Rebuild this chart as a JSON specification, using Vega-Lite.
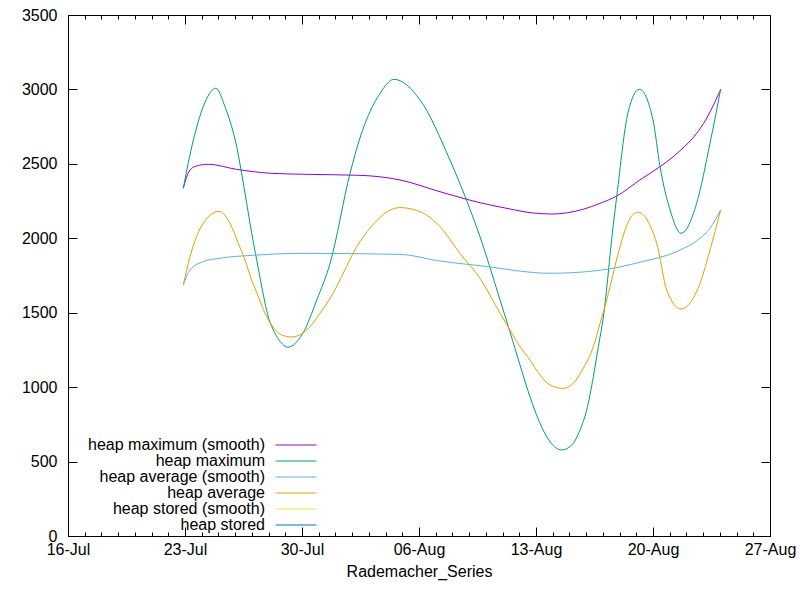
{
  "$schema": "https://vega.github.io/schema/vega-lite/v6.json",
  "width": 702,
  "height": 521,
  "autosize": "none",
  "padding": {"left": 68, "top": 15, "right": 30, "bottom": 64},
  "background": "white",
  "config": {
    "view": {"stroke": "black", "strokeWidth": 1},
    "font": "Liberation Sans",
    "axis": {
      "labelFont": "Liberation Sans",
      "labelFontSize": 16,
      "labelColor": "black",
      "titleFont": "Liberation Sans",
      "titleFontSize": 16,
      "titleFontWeight": "normal",
      "titleColor": "black",
      "tickColor": "black",
      "domainColor": "black",
      "grid": false
    },
    "legend": {
      "labelFont": "Liberation Sans",
      "labelFontSize": 16,
      "labelColor": "black",
      "labelLimit": 400
    }
  },
  "data": {
    "values": [
      {"series": "heap maximum (smooth)", "t": "2019-07-22T21:30", "v": 2336},
      {"series": "heap maximum (smooth)", "t": "2019-07-23T07:10", "v": 2459},
      {"series": "heap maximum (smooth)", "t": "2019-07-23T16:50", "v": 2486},
      {"series": "heap maximum (smooth)", "t": "2019-07-24T09:25", "v": 2497},
      {"series": "heap maximum (smooth)", "t": "2019-07-26T02:15", "v": 2463},
      {"series": "heap maximum (smooth)", "t": "2019-07-28T02:10", "v": 2437},
      {"series": "heap maximum (smooth)", "t": "2019-07-30T01:55", "v": 2430},
      {"series": "heap maximum (smooth)", "t": "2019-08-02T11:15", "v": 2423},
      {"series": "heap maximum (smooth)", "t": "2019-08-04T20:40", "v": 2392},
      {"series": "heap maximum (smooth)", "t": "2019-08-07T06:10", "v": 2313},
      {"series": "heap maximum (smooth)", "t": "2019-08-09T15:35", "v": 2239},
      {"series": "heap maximum (smooth)", "t": "2019-08-11T10:35", "v": 2197},
      {"series": "heap maximum (smooth)", "t": "2019-08-12T15:20", "v": 2172},
      {"series": "heap maximum (smooth)", "t": "2019-08-13T22:35", "v": 2163},
      {"series": "heap maximum (smooth)", "t": "2019-08-15T19:55", "v": 2195},
      {"series": "heap maximum (smooth)", "t": "2019-08-16T20:00", "v": 2235},
      {"series": "heap maximum (smooth)", "t": "2019-08-17T20:00", "v": 2284},
      {"series": "heap maximum (smooth)", "t": "2019-08-19T05:15", "v": 2392},
      {"series": "heap maximum (smooth)", "t": "2019-08-20T10:05", "v": 2481},
      {"series": "heap maximum (smooth)", "t": "2019-08-21T14:50", "v": 2588},
      {"series": "heap maximum (smooth)", "t": "2019-08-22T14:40", "v": 2705},
      {"series": "heap maximum (smooth)", "t": "2019-08-23T03:40", "v": 2795},
      {"series": "heap maximum (smooth)", "t": "2019-08-24T01:10", "v": 3000},

      {"series": "heap maximum", "t": "2019-07-22T21:30", "v": 2336},
      {"series": "heap maximum", "t": "2019-07-23T12:00", "v": 2660},
      {"series": "heap maximum", "t": "2019-07-24T02:10", "v": 2884},
      {"series": "heap maximum", "t": "2019-07-24T20:10", "v": 3008},
      {"series": "heap maximum", "t": "2019-07-25T09:25", "v": 2884},
      {"series": "heap maximum", "t": "2019-07-25T19:00", "v": 2750},
      {"series": "heap maximum", "t": "2019-07-26T02:15", "v": 2615},
      {"series": "heap maximum", "t": "2019-07-26T08:25", "v": 2459},
      {"series": "heap maximum", "t": "2019-07-26T16:35", "v": 2235},
      {"series": "heap maximum", "t": "2019-07-26T23:45", "v": 2034},
      {"series": "heap maximum", "t": "2019-07-27T07:00", "v": 1854},
      {"series": "heap maximum", "t": "2019-07-27T14:10", "v": 1675},
      {"series": "heap maximum", "t": "2019-07-27T23:35", "v": 1473},
      {"series": "heap maximum", "t": "2019-07-28T09:10", "v": 1362},
      {"series": "heap maximum", "t": "2019-07-28T23:35", "v": 1276},
      {"series": "heap maximum", "t": "2019-07-29T03:00", "v": 1268},
      {"series": "heap maximum", "t": "2019-07-30T01:30", "v": 1364},
      {"series": "heap maximum", "t": "2019-07-30T21:10", "v": 1585},
      {"series": "heap maximum", "t": "2019-07-31T16:20", "v": 1832},
      {"series": "heap maximum", "t": "2019-08-01T21:00", "v": 2437},
      {"series": "heap maximum", "t": "2019-08-02T11:15", "v": 2674},
      {"series": "heap maximum", "t": "2019-08-03T16:05", "v": 2974},
      {"series": "heap maximum", "t": "2019-08-04T12:00", "v": 3068},
      {"series": "heap maximum", "t": "2019-08-06T01:30", "v": 2929},
      {"series": "heap maximum", "t": "2019-08-07T20:25", "v": 2526},
      {"series": "heap maximum", "t": "2019-08-09T01:15", "v": 2195},
      {"series": "heap maximum", "t": "2019-08-09T15:35", "v": 2011},
      {"series": "heap maximum", "t": "2019-08-10T20:25", "v": 1585},
      {"series": "heap maximum", "t": "2019-08-11T10:35", "v": 1372},
      {"series": "heap maximum", "t": "2019-08-12T01:00", "v": 1149},
      {"series": "heap maximum", "t": "2019-08-12T15:20", "v": 936},
      {"series": "heap maximum", "t": "2019-08-13T05:45", "v": 757},
      {"series": "heap maximum", "t": "2019-08-13T20:10", "v": 633},
      {"series": "heap maximum", "t": "2019-08-14T12:55", "v": 578},
      {"series": "heap maximum", "t": "2019-08-15T03:20", "v": 611},
      {"series": "heap maximum", "t": "2019-08-15T15:10", "v": 712},
      {"series": "heap maximum", "t": "2019-08-16T00:45", "v": 846},
      {"series": "heap maximum", "t": "2019-08-16T10:20", "v": 1070},
      {"series": "heap maximum", "t": "2019-08-16T17:30", "v": 1272},
      {"series": "heap maximum", "t": "2019-08-17T00:45", "v": 1473},
      {"series": "heap maximum", "t": "2019-08-17T14:40", "v": 2078},
      {"series": "heap maximum", "t": "2019-08-17T20:00", "v": 2284},
      {"series": "heap maximum", "t": "2019-08-18T12:00", "v": 2842},
      {"series": "heap maximum", "t": "2019-08-19T04:20", "v": 3001},
      {"series": "heap maximum", "t": "2019-08-20T00:00", "v": 2795},
      {"series": "heap maximum", "t": "2019-08-20T10:05", "v": 2481},
      {"series": "heap maximum", "t": "2019-08-21T00:30", "v": 2190},
      {"series": "heap maximum", "t": "2019-08-21T16:20", "v": 2034},
      {"series": "heap maximum", "t": "2019-08-22T14:40", "v": 2235},
      {"series": "heap maximum", "t": "2019-08-23T09:50", "v": 2638},
      {"series": "heap maximum", "t": "2019-08-24T01:10", "v": 3001},

      {"series": "heap average (smooth)", "t": "2019-07-22T21:30", "v": 1686},
      {"series": "heap average (smooth)", "t": "2019-07-23T07:10", "v": 1787},
      {"series": "heap average (smooth)", "t": "2019-07-24T02:10", "v": 1843},
      {"series": "heap average (smooth)", "t": "2019-07-25T02:10", "v": 1866},
      {"series": "heap average (smooth)", "t": "2019-07-27T02:10", "v": 1886},
      {"series": "heap average (smooth)", "t": "2019-07-30T01:55", "v": 1899},
      {"series": "heap average (smooth)", "t": "2019-08-04T20:40", "v": 1892},
      {"series": "heap average (smooth)", "t": "2019-08-07T06:10", "v": 1847},
      {"series": "heap average (smooth)", "t": "2019-08-09T15:35", "v": 1816},
      {"series": "heap average (smooth)", "t": "2019-08-13T20:10", "v": 1765},
      {"series": "heap average (smooth)", "t": "2019-08-16T20:00", "v": 1785},
      {"series": "heap average (smooth)", "t": "2019-08-19T05:15", "v": 1839},
      {"series": "heap average (smooth)", "t": "2019-08-21T14:50", "v": 1921},
      {"series": "heap average (smooth)", "t": "2019-08-22T19:30", "v": 2000},
      {"series": "heap average (smooth)", "t": "2019-08-23T09:50", "v": 2067},
      {"series": "heap average (smooth)", "t": "2019-08-24T01:10", "v": 2190},

      {"series": "heap average", "t": "2019-07-22T21:30", "v": 1686},
      {"series": "heap average", "t": "2019-07-23T07:10", "v": 1876},
      {"series": "heap average", "t": "2019-07-24T02:10", "v": 2101},
      {"series": "heap average", "t": "2019-07-25T00:45", "v": 2181},
      {"series": "heap average", "t": "2019-07-25T16:35", "v": 2101},
      {"series": "heap average", "t": "2019-07-26T04:35", "v": 1966},
      {"series": "heap average", "t": "2019-07-26T14:10", "v": 1854},
      {"series": "heap average", "t": "2019-07-26T23:45", "v": 1720},
      {"series": "heap average", "t": "2019-07-27T09:20", "v": 1608},
      {"series": "heap average", "t": "2019-07-27T18:55", "v": 1496},
      {"series": "heap average", "t": "2019-07-28T04:30", "v": 1417},
      {"series": "heap average", "t": "2019-07-28T18:55", "v": 1350},
      {"series": "heap average", "t": "2019-07-29T09:10", "v": 1337},
      {"series": "heap average", "t": "2019-07-30T11:30", "v": 1406},
      {"series": "heap average", "t": "2019-07-31T01:50", "v": 1496},
      {"series": "heap average", "t": "2019-07-31T16:20", "v": 1597},
      {"series": "heap average", "t": "2019-08-02T11:15", "v": 1977},
      {"series": "heap average", "t": "2019-08-04T20:40", "v": 2206},
      {"series": "heap average", "t": "2019-08-06T01:30", "v": 2179},
      {"series": "heap average", "t": "2019-08-07T06:10", "v": 2078},
      {"series": "heap average", "t": "2019-08-08T10:50", "v": 1899},
      {"series": "heap average", "t": "2019-08-09T15:35", "v": 1731},
      {"series": "heap average", "t": "2019-08-10T20:25", "v": 1496},
      {"series": "heap average", "t": "2019-08-11T10:35", "v": 1384},
      {"series": "heap average", "t": "2019-08-12T01:00", "v": 1272},
      {"series": "heap average", "t": "2019-08-12T15:20", "v": 1182},
      {"series": "heap average", "t": "2019-08-13T05:45", "v": 1082},
      {"series": "heap average", "t": "2019-08-13T20:10", "v": 1014},
      {"series": "heap average", "t": "2019-08-14T14:25", "v": 992},
      {"series": "heap average", "t": "2019-08-15T05:30", "v": 1026},
      {"series": "heap average", "t": "2019-08-15T19:55", "v": 1127},
      {"series": "heap average", "t": "2019-08-16T10:20", "v": 1272},
      {"series": "heap average", "t": "2019-08-16T20:00", "v": 1429},
      {"series": "heap average", "t": "2019-08-17T05:30", "v": 1585},
      {"series": "heap average", "t": "2019-08-17T10:20", "v": 1675},
      {"series": "heap average", "t": "2019-08-18T00:40", "v": 1944},
      {"series": "heap average", "t": "2019-08-18T15:00", "v": 2134},
      {"series": "heap average", "t": "2019-08-19T02:05", "v": 2175},
      {"series": "heap average", "t": "2019-08-20T05:20", "v": 1966},
      {"series": "heap average", "t": "2019-08-20T19:40", "v": 1653},
      {"series": "heap average", "t": "2019-08-21T16:20", "v": 1525},
      {"series": "heap average", "t": "2019-08-22T19:30", "v": 1698},
      {"series": "heap average", "t": "2019-08-23T09:50", "v": 1921},
      {"series": "heap average", "t": "2019-08-24T01:10", "v": 2190}
    ]
  },
  "encoding": {
    "x": {"field": "t", "type": "temporal"},
    "y": {"field": "v", "type": "quantitative"}
  },
  "layer": [
    {
      "mark": {"type": "line", "strokeWidth": 1, "interpolate": "monotone"},
      "encoding": {
        "x": {
          "field": "t",
          "type": "temporal",
          "title": "Rademacher_Series",
          "scale": {"domain": [{"year": 2019, "month": "Jul", "date": 16}, {"year": 2019, "month": "Aug", "date": 27}]},
          "axis": {
            "orient": "bottom",
            "format": "%d-%b",
            "values": [
              {"year": 2019, "month": "Jul", "date": 16},
              {"year": 2019, "month": "Jul", "date": 23},
              {"year": 2019, "month": "Jul", "date": 30},
              {"year": 2019, "month": "Aug", "date": 6},
              {"year": 2019, "month": "Aug", "date": 13},
              {"year": 2019, "month": "Aug", "date": 20},
              {"year": 2019, "month": "Aug", "date": 27}
            ],
            "tickSize": -9,
            "labelPadding": 14,
            "titlePadding": 6,
            "labelFlush": false,
            "labelOverlap": false
          }
        },
        "y": {
          "field": "v",
          "type": "quantitative",
          "scale": {"domain": [0, 3500], "nice": false},
          "axis": {
            "orient": "left",
            "title": null,
            "values": [0, 500, 1000, 1500, 2000, 2500, 3000, 3500],
            "format": "d",
            "tickSize": -9,
            "labelPadding": 20,
            "labelFlush": false,
            "labelOverlap": false
          }
        },
        "color": {
          "field": "series",
          "type": "nominal",
          "scale": {
            "domain": ["heap maximum (smooth)", "heap maximum", "heap average (smooth)", "heap average", "heap stored (smooth)", "heap stored"],
            "range": ["#9400d3", "#009e73", "#56b4e9", "#e69f00", "#f0e442", "#0072b2"]
          },
          "legend": {
            "title": null,
            "orient": "none",
            "legendX": 220,
            "legendY": 422,
            "symbolType": "M-5,0H5",
            "symbolSize": 67,
            "symbolStrokeWidth": 1,
            "labelAlign": "right",
            "labelOffset": -39,
            "rowPadding": 0
          }
        }
      }
    },
    {
      "mark": {"type": "line", "strokeOpacity": 0},
      "encoding": {
        "detail": {"field": "series"},
        "x": {
          "field": "t",
          "type": "temporal",
          "axis": {"orient": "bottom", "title": null, "labels": false, "domain": false, "tickSize": -4, "tickCount": {"interval": "day", "step": 1}}
        },
        "y": {
          "field": "v",
          "type": "quantitative",
          "axis": {"orient": "right", "title": null, "labels": false, "domain": false, "tickSize": -9, "values": [0, 500, 1000, 1500, 2000, 2500, 3000, 3500]}
        }
      }
    },
    {
      "mark": {"type": "line", "strokeOpacity": 0},
      "encoding": {
        "detail": {"field": "series"},
        "x": {
          "field": "t",
          "type": "temporal",
          "axis": {
            "orient": "top", "title": null, "labels": false, "domain": false, "tickSize": -9,
            "values": [
              {"year": 2019, "month": "Jul", "date": 16},
              {"year": 2019, "month": "Jul", "date": 23},
              {"year": 2019, "month": "Jul", "date": 30},
              {"year": 2019, "month": "Aug", "date": 6},
              {"year": 2019, "month": "Aug", "date": 13},
              {"year": 2019, "month": "Aug", "date": 20},
              {"year": 2019, "month": "Aug", "date": 27}
            ]
          }
        },
        "y": {"field": "v", "type": "quantitative", "axis": null}
      }
    },
    {
      "mark": {"type": "line", "strokeOpacity": 0},
      "encoding": {
        "detail": {"field": "series"},
        "x": {
          "field": "t",
          "type": "temporal",
          "axis": {"orient": "top", "title": null, "labels": false, "domain": false, "tickSize": -4, "tickCount": {"interval": "day", "step": 1}}
        },
        "y": {"field": "v", "type": "quantitative", "axis": null}
      }
    }
  ],
  "resolve": {"axis": {"x": "independent", "y": "independent"}}
}
